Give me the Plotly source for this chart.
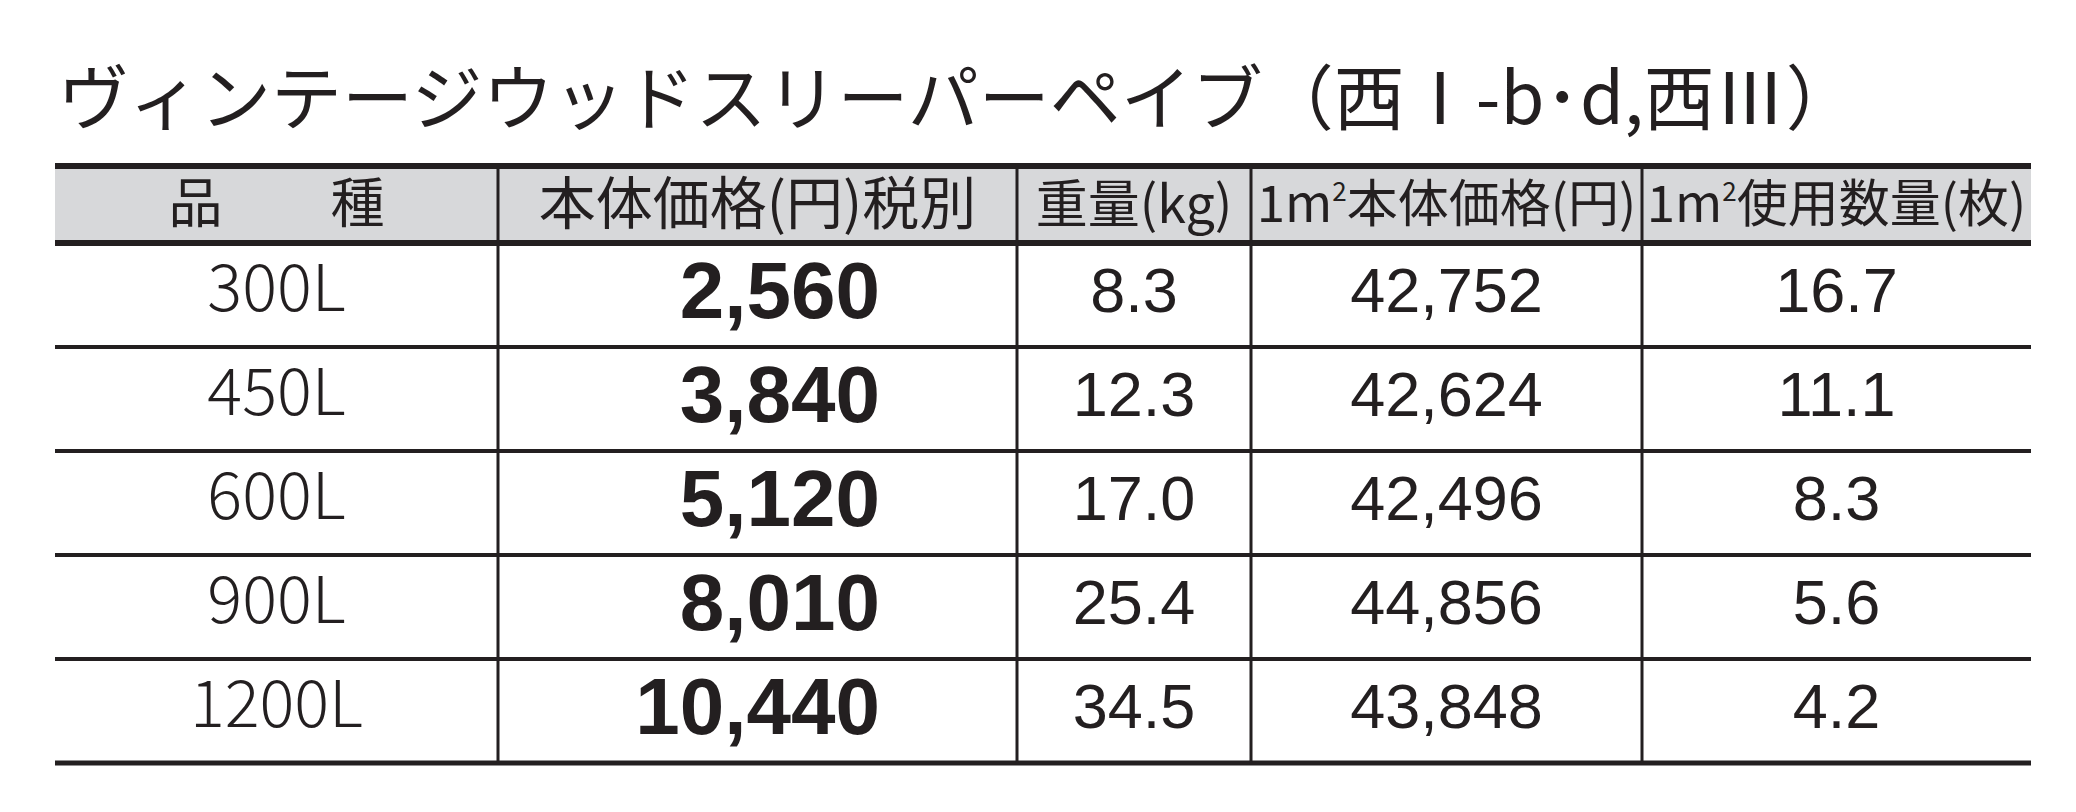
"""Spec table: Vintage wood sleeper pave (price / weight per piece and per m2)."""

import plotly.graph_objects as go

TITLE = "ヴィンテージウッドスリーパーペイブ（西Ⅰ-b･d,西Ⅲ）"
SQ = "m<sup><span style='font-size:26px'>2</span></sup>"
HEADERS = [
    "品　　種",
    "本体価格(円)税別",
    "重量(kg)",
    f"1{SQ}本体価格(円)",
    f"1{SQ}使用数量(枚)",
]
products = ["300L", "450L", "600L", "900L", "1200L"]
prices = [2560, 3840, 5120, 8010, 10440]
weights = [8.3, 12.3, 17.0, 25.4, 34.5]
price_per_m2 = [42752, 42624, 42496, 44856, 43848]
pieces_per_m2 = [16.7, 11.1, 8.3, 5.6, 4.2]

# page geometry (pixels)
W, H = 2076, 812
COL_EDGES = [55, 498, 1017, 1251, 1642, 2031]
HEAD_TOP, HEAD_BOTTOM = 166, 243
ROW_LINES = [347, 451, 555, 659, 763]
PRICE_RIGHT = 880
HEAD_SIZES = [54, 57, 52, 51, 51]

INK = "#231f20"
GRAY = "#d7d8da"
JP = "Noto Sans CJK JP"
NUM = "Liberation Sans"

col_mid = [(a + b) / 2 for a, b in zip(COL_EDGES[:-1], COL_EDGES[1:])]
row_edges = [HEAD_BOTTOM] + ROW_LINES
row_mid = [(a + b) / 2 for a, b in zip(row_edges[:-1], row_edges[1:])]

fig = go.Figure()

# title
fig.add_trace(go.Scatter(
    x=[58], y=[106], mode="text", text=[TITLE], textposition="middle right",
    textfont=dict(family=JP, size=71, color=INK), hoverinfo="skip",
))

# header labels
fig.add_trace(go.Scatter(
    x=col_mid, y=[(HEAD_TOP + HEAD_BOTTOM) / 2 + 5] * len(HEADERS), mode="text",
    text=HEADERS, textposition="middle center",
    textfont=dict(family=JP, size=HEAD_SIZES, color=INK), hoverinfo="skip",
))

# body columns
fig.add_trace(go.Scatter(
    x=[col_mid[0]] * len(products), y=row_mid, mode="text", text=products,
    textposition="middle center",
    textfont=dict(family=JP, size=65, color=INK, weight=300), hoverinfo="skip",
))
fig.add_trace(go.Scatter(
    x=[PRICE_RIGHT] * len(prices), y=[m + 3 for m in row_mid], mode="text",
    text=[f"{v:,}" for v in prices], textposition="middle left",
    textfont=dict(family=NUM, size=80, color=INK, weight="bold"), hoverinfo="skip",
))
for i, (vals, fmt) in enumerate(
    [(weights, "{:.1f}"), (price_per_m2, "{:,}"), (pieces_per_m2, "{:.1f}")], start=2
):
    fig.add_trace(go.Scatter(
        x=[col_mid[i]] * len(vals), y=[m + 1 for m in row_mid], mode="text",
        text=[fmt.format(v) for v in vals], textposition="middle center",
        textfont=dict(family=NUM, size=63, color=INK), hoverinfo="skip",
    ))

# header band and rules
shapes = [
    dict(type="rect", x0=COL_EDGES[0], x1=COL_EDGES[-1], y0=HEAD_TOP, y1=HEAD_BOTTOM,
         fillcolor=GRAY, line_width=0, layer="below"),
    dict(type="line", x0=COL_EDGES[0], x1=COL_EDGES[-1], y0=HEAD_TOP, y1=HEAD_TOP,
         line=dict(color=INK, width=6)),
    dict(type="line", x0=COL_EDGES[0], x1=COL_EDGES[-1], y0=HEAD_BOTTOM, y1=HEAD_BOTTOM,
         line=dict(color=INK, width=6)),
]
for y in ROW_LINES:
    shapes.append(dict(type="line", x0=COL_EDGES[0], x1=COL_EDGES[-1], y0=y, y1=y,
                       line=dict(color=INK, width=5 if y == ROW_LINES[-1] else 4)))
for x in COL_EDGES[1:-1]:
    shapes.append(dict(type="line", x0=x, x1=x, y0=HEAD_TOP, y1=ROW_LINES[-1],
                       line=dict(color=INK, width=3)))

fig.update_layout(
    width=W, height=H, margin=dict(l=0, r=0, t=0, b=0),
    paper_bgcolor="white", plot_bgcolor="white", showlegend=False,
    xaxis=dict(range=[0, W], visible=False, fixedrange=True),
    yaxis=dict(range=[H, 0], visible=False, fixedrange=True),
    shapes=shapes,
)

fig.write_html(
    "out.html",
    config={"displayModeBar": False},
    post_script="document.body.style.margin='0';",
)
